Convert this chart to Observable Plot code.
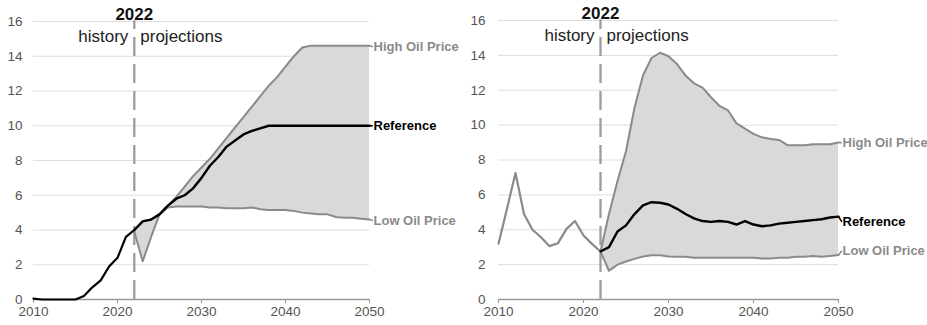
<!DOCTYPE html>
<html>
<head>
<meta charset="utf-8">
<script src="https://cdn.jsdelivr.net/npm/d3@7"></script>
<script src="https://cdn.jsdelivr.net/npm/@observablehq/plot@0.6"></script>
<style>
  html, body { margin: 0; padding: 0; background: #fff; }
  #row { display: flex; width: 927px; height: 325px; }
</style>
</head>
<body>
<div id="row"></div>
<script>
// Axis ticks and years
const historyYears = d3.range(2010, 2023);
const projectionYears = d3.range(2022, 2051);
const xTicks = [2010, 2020, 2030, 2040, 2050];
const yTicks = [0, 2, 4, 6, 8, 10, 12, 14, 16];
const divideYear = 2022;
const seriesNames = ["High Oil Price", "Reference", "Low Oil Price"];

// Left panel: reference 2010-2050 (history included), high and low 2022-2050
const leftReference = [0.05, 0, 0, 0, 0, 0, 0.2, 0.7, 1.1, 1.9, 2.4, 3.6, 4.0,
  4.5, 4.6, 4.9, 5.4, 5.8, 6.0, 6.4, 7.0, 7.7, 8.2, 8.8, 9.15, 9.5, 9.7, 9.85, 10.0,
  10.0, 10.0, 10.0, 10.0, 10.0, 10.0, 10.0, 10.0, 10.0, 10.0, 10.0, 10.0];
const leftHigh = [4.0, 4.5, 4.6, 4.9, 5.4, 5.9, 6.5, 7.1, 7.6, 8.1, 8.7, 9.3, 9.9,
  10.5, 11.1, 11.7, 12.3, 12.8, 13.4, 14.0, 14.5, 14.6, 14.6, 14.6, 14.6, 14.6, 14.6, 14.6, 14.6];
const leftLow = [3.9, 2.2, 3.6, 4.9, 5.3, 5.35, 5.35, 5.35, 5.35, 5.3, 5.3, 5.25, 5.25,
  5.25, 5.3, 5.2, 5.15, 5.15, 5.15, 5.1, 5.0, 4.95, 4.9, 4.9, 4.75, 4.7, 4.7, 4.65, 4.6];
const leftLabelY = [14.55, 10.0, 4.55];

// Right panel: history 2010-2022, projections 2022-2050
const rightHistory = [3.2, 5.2, 7.25, 4.9, 4.0, 3.57, 3.06, 3.23, 4.05, 4.5, 3.67, 3.19, 2.75];
const rightReference = [2.75, 3.0, 3.9, 4.25, 4.9, 5.4, 5.58, 5.55, 5.45, 5.2, 4.9, 4.65, 4.5,
  4.45, 4.5, 4.45, 4.3, 4.5, 4.3, 4.2, 4.25, 4.35, 4.4, 4.45, 4.5, 4.55, 4.6, 4.7, 4.75];
const rightHigh = [2.75, 4.9, 6.8, 8.5, 11.0, 12.85, 13.85, 14.15, 13.95, 13.5, 12.85, 12.4, 12.15,
  11.6, 11.1, 10.85, 10.1, 9.8, 9.5, 9.3, 9.2, 9.15, 8.85, 8.85, 8.85, 8.9, 8.9, 8.9, 9.0];
const rightLow = [2.75, 1.65, 2.0, 2.18, 2.33, 2.47, 2.54, 2.54, 2.47, 2.45, 2.45, 2.4, 2.4,
  2.4, 2.4, 2.4, 2.4, 2.4, 2.4, 2.35, 2.35, 2.4, 2.4, 2.45, 2.45, 2.5, 2.45, 2.5, 2.55];
const rightLabelY = [9.0, 4.45, 2.8];

const GREY = "#8a8a8a";
const BAND = "#d9d9d9";
const seriesColors = [GREY, "#000", GREY];

function panel({width, marginLeft, marginRight, marginTop, history, historyColor,
                reference, high, low, labelY}) {
  const band = projectionYears.map((year, i) => ({year, low: low[i], high: high[i], ref: reference[i]}));
  const hist = history.years.map((year, i) => ({year, value: history.values[i]}));
  const last = band.at(-1);
  const ends = seriesNames.map((name, i) => ({
    name,
    value: [last.high, last.ref, last.low][i],
    labelY: labelY[i],
    color: seriesColors[i]
  }));
  return Plot.plot({
    width, height: 325,
    marginLeft, marginRight, marginTop, marginBottom: 26,
    style: {fontFamily: "'Liberation Sans', Arial, sans-serif", fontSize: "13px", color: "#555", background: "#fff"},
    x: {domain: [2010, 2050], label: null},
    y: {domain: [0, 16], label: null},
    marks: [
      Plot.gridY(yTicks.filter(d => d > 0), {stroke: "#dedede", strokeOpacity: 1}),
      Plot.areaY(band, {x: "year", y1: "low", y2: "high", fill: BAND}),
      Plot.ruleX([divideYear], {y1: 0, y2: 16.05, stroke: "#9c9c9c", strokeWidth: 2.3, strokeDasharray: "19,8"}),
      Plot.ruleY([0], {stroke: "#999", strokeWidth: 1.5}),
      Plot.axisX({ticks: xTicks, tickFormat: d => String(d), tickSize: 4, tickPadding: 3, stroke: "#999",
        fontSize: 13.5, color: "#555", label: null}),
      Plot.axisY({ticks: yTicks, tickSize: 0, tickPadding: marginLeft - 22, fontSize: 13.5, color: "#555", label: null}),
      Plot.lineY(band, {x: "year", y: "high", stroke: GREY, strokeWidth: 2}),
      Plot.lineY(band, {x: "year", y: "low", stroke: GREY, strokeWidth: 2}),
      Plot.lineY(hist, {x: "year", y: "value", stroke: historyColor, strokeWidth: 2.2}),
      Plot.lineY(band, {x: "year", y: "ref", stroke: "#000", strokeWidth: 2.4}),
      // short leaders from line ends to the series labels
      Plot.link(ends, {x1: 2050, y1: "value", x2: 2050.4, y2: "labelY", stroke: "color", strokeWidth: 1.6}),
      Plot.text(ends, {x: 2050, y: "labelY", text: "name", dx: 4, textAnchor: "start",
        fill: "color", fontWeight: "bold", fontSize: 13}),
      Plot.text([String(divideYear)], {x: divideYear, y: 16.38, text: d => d, fontWeight: "bold", fontSize: 17, fill: "#111"}),
      Plot.text(["history"], {x: divideYear, y: 15.15, text: d => d, dx: -6, textAnchor: "end", fontSize: 17, fill: "#222"}),
      Plot.text(["projections"], {x: divideYear, y: 15.15, text: d => d, dx: 6, textAnchor: "start", fontSize: 17, fill: "#222"})
    ]
  });
}

const row = document.getElementById("row");
row.append(panel({
  width: 463, marginLeft: 33, marginRight: 94, marginTop: 21,
  history: {years: historyYears, values: leftReference.slice(0, historyYears.length)},
  historyColor: "#000",
  reference: leftReference.slice(historyYears.length - 1),
  high: leftHigh, low: leftLow, labelY: leftLabelY
}));
row.append(panel({
  width: 464, marginLeft: 35, marginRight: 89, marginTop: 20,
  history: {years: historyYears, values: rightHistory},
  historyColor: GREY,
  reference: rightReference,
  high: rightHigh, low: rightLow, labelY: rightLabelY
}));
</script>
</body>
</html>
